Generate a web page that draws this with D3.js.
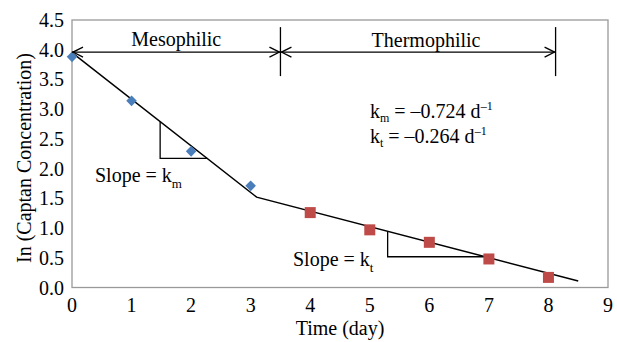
<!DOCTYPE html>
<html>
<head>
<meta charset="utf-8">
<script src="https://cdn.jsdelivr.net/npm/d3@7"></script>
<style>
  body { margin: 0; background: #fff; }
  text { font-family: "Liberation Serif", "Times New Roman", serif; fill: #000; }
</style>
</head>
<body>
<div id="chart"></div>
<script>
// measured points
var mesoDays = [0, 1, 2, 3];
var mesoVals = [3.88, 3.14, 2.29, 1.71];
var thermoDays = [4, 5, 6, 7, 8];
var thermoVals = [1.26, 0.97, 0.76, 0.48, 0.17];

// fitted piecewise line (start, knee, end)
var fitDays = [0, 3.1, 8.5];
var fitVals = [3.95, 1.52, 0.11];

// slope triangles: [x of vertical leg, x where horizontal leg meets the line]
var triMeso = [1.48, 2.27];
var triThermo = [5.3, 6.94];

// phase ranges
var phaseBounds = [0, 3.5, 8.12];
var phaseNames = ['Mesophilic', 'Thermophilic'];
var phaseY = 3.96;

// rate constants
var rateSubs = ['m', 't'];
var rateVals = ['\u20130.724', '\u20130.264'];

var xTicks = [0, 1, 2, 3, 4, 5, 6, 7, 8, 9];
var yTicks = [0, 0.5, 1, 1.5, 2, 2.5, 3, 3.5, 4, 4.5];

var W = 617, H = 342;
var svg = d3.select('#chart').append('svg').attr('width', W).attr('height', H);

var x = d3.scaleLinear().domain([0, 9]).range([72, 608]);
var y = d3.scaleLinear().domain([0, 4.5]).range([287.5, 20]);

// fitted line as function (piecewise linear)
var fit = d3.scaleLinear().domain(fitDays).range(fitVals);

// frame
svg.append('rect').attr('x', x(0)).attr('y', y(4.5))
  .attr('width', x(9) - x(0)).attr('height', y(0) - y(4.5))
  .attr('fill', 'none').attr('stroke', '#999').attr('stroke-width', 1.3);

// tick labels
svg.append('g').selectAll('text').data(yTicks).enter().append('text')
  .attr('x', 64).attr('y', function(d){ return y(d) + 7; })
  .attr('text-anchor', 'end').attr('font-size', 20)
  .text(function(d){ return d3.format('.1f')(d); });

svg.append('g').selectAll('text').data(xTicks).enter().append('text')
  .attr('x', function(d){ return x(d); }).attr('y', 312)
  .attr('text-anchor', 'middle').attr('font-size', 20)
  .text(function(d){ return d; });

// axis titles
svg.append('text').attr('x', 340).attr('y', 335).attr('text-anchor', 'middle')
  .attr('font-size', 20).text('Time (day)');
svg.append('text').attr('transform', 'translate(31,158) rotate(-90)')
  .attr('text-anchor', 'middle').attr('font-size', 20).text('In (Captan Concentration)');

// fitted line
var line = d3.line().x(function(d){ return x(d[0]); }).y(function(d){ return y(d[1]); });
svg.append('path').datum(d3.zip(fitDays, fitVals)).attr('d', line)
  .attr('fill', 'none').attr('stroke', '#000').attr('stroke-width', 1.5);

// slope triangles
function triangle(t){
  var pts = [[t[0], fit(t[0])], [t[0], fit(t[1])], [t[1], fit(t[1])]];
  svg.append('path').datum(pts).attr('d', line)
    .attr('fill', 'none').attr('stroke', '#000').attr('stroke-width', 1.3);
}
triangle(triMeso);
triangle(triThermo);

// markers
svg.append('g').selectAll('path').data(d3.zip(mesoDays, mesoVals)).enter().append('path')
  .attr('d', d3.symbol().type(d3.symbolSquare).size(56))
  .attr('transform', function(d){ return 'translate(' + x(d[0]) + ',' + y(d[1]) + ') rotate(45)'; })
  .attr('fill', '#4a7ebb');
svg.append('g').selectAll('rect').data(d3.zip(thermoDays, thermoVals)).enter().append('rect')
  .attr('x', function(d){ return x(d[0]) - 5.5; })
  .attr('y', function(d){ return y(d[1]) - 5.5; })
  .attr('width', 11).attr('height', 11)
  .attr('fill', '#be4b48');

// phase arrows
var ay = y(phaseY);
var g = svg.append('g').attr('stroke', '#000').attr('stroke-width', 1.3).attr('fill', 'none');
g.append('line').attr('x1', x(phaseBounds[0])).attr('x2', x(phaseBounds[2]))
  .attr('y1', ay).attr('y2', ay);
[1, 2].forEach(function(i){
  g.append('line').attr('x1', x(phaseBounds[i])).attr('x2', x(phaseBounds[i]))
    .attr('y1', ay - 25).attr('y2', ay + 24);
});
function head(px, dir){
  g.append('path').attr('d', 'M' + (px - dir * 10) + ',' + (ay - 5) + 'L' + px + ',' + ay + 'L' + (px - dir * 10) + ',' + (ay + 5));
}
head(x(phaseBounds[0]) + 1, -1);
head(x(phaseBounds[1]) - 1, 1);
head(x(phaseBounds[1]) + 1, -1);
head(x(phaseBounds[2]) - 1, 1);

svg.append('text').attr('x', (x(phaseBounds[0]) + x(phaseBounds[1])) / 2).attr('y', 46)
  .attr('text-anchor', 'middle').attr('font-size', 20).text(phaseNames[0]);
svg.append('text').attr('x', (x(phaseBounds[1]) + x(phaseBounds[2])) / 2 + 8).attr('y', 47)
  .attr('text-anchor', 'middle').attr('font-size', 20).text(phaseNames[1]);

// rate annotations
rateSubs.forEach(function(sub, i){
  var t = svg.append('text').attr('x', 370).attr('y', 118 + i * 25).attr('font-size', 20);
  t.append('tspan').text('k');
  t.append('tspan').attr('font-size', 12).attr('dy', 4).text(sub);
  t.append('tspan').attr('dy', -4).text(' = ' + rateVals[i] + ' d');
  t.append('tspan').attr('font-size', 12).attr('dy', -8).text('\u20131');
});

function slopeLabel(tx, ty, sub){
  var t = svg.append('text').attr('x', tx).attr('y', ty).attr('font-size', 20);
  t.append('tspan').text('Slope = k');
  t.append('tspan').attr('font-size', 13).attr('dy', 6).text(sub);
}
slopeLabel(95, 182, 'm');
slopeLabel(293, 266, 't');
</script>
</body>
</html>
